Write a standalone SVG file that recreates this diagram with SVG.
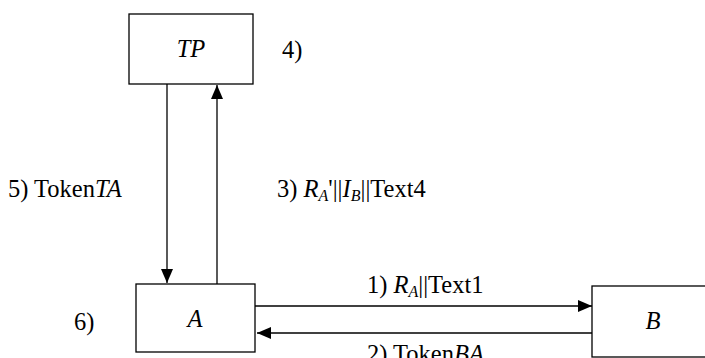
<svg xmlns="http://www.w3.org/2000/svg" width="705" height="358" viewBox="0 0 705 358">
  <style>
    .box { fill: #fff; stroke: #000; stroke-width: 1.3; }
    .edge { fill: none; stroke: #000; stroke-width: 1.3; }
    text { font-family: "Liberation Serif", "Times New Roman", serif; font-size: 24.5px; fill: #000; }
    .it { font-style: italic; }
    .sub { font-size: 16px; font-style: italic; }
  </style>
  <defs>
    <marker id="arrow" viewBox="0 0 14 12" refX="14" refY="6" markerWidth="14" markerHeight="12" markerUnits="userSpaceOnUse" orient="auto">
      <path d="M0,0 L14,6 L0,12 Z" fill="#000"/>
    </marker>
  </defs>

  <g id="connectors">
    <line class="edge" x1="167" y1="84" x2="167" y2="283" marker-end="url(#arrow)"/>
    <line class="edge" x1="217" y1="284" x2="217" y2="85" marker-end="url(#arrow)"/>
    <line class="edge" x1="255" y1="306" x2="592" y2="306" marker-end="url(#arrow)"/>
    <line class="edge" x1="592" y1="333" x2="257" y2="333" marker-end="url(#arrow)"/>
  </g>

  <g id="node-tp">
    <rect class="box" x="129" y="14" width="124" height="70"/>
    <text class="it" x="191" y="57" text-anchor="middle">TP</text>
  </g>
  <g id="node-a">
    <rect class="box" x="136" y="284" width="119" height="68"/>
    <text class="it" x="195" y="327" text-anchor="middle">A</text>
  </g>
  <g id="node-b">
    <rect class="box" x="592" y="286" width="130" height="71"/>
    <text class="it" x="653" y="329" text-anchor="middle">B</text>
  </g>

  <g id="labels">
    <text x="282" y="58">4)</text>
    <text x="8" y="197">5) Token<tspan class="it">TA</tspan></text>
    <text x="277" y="197">3) <tspan class="it">R</tspan><tspan class="sub" dy="4">A</tspan><tspan dy="-4">'||</tspan><tspan class="it">I</tspan><tspan class="sub" dy="4">B</tspan><tspan dy="-4">||Text4</tspan></text>
    <text x="367" y="293">1) <tspan class="it">R</tspan><tspan class="sub" dy="4">A</tspan><tspan dy="-4">||Text1</tspan></text>
    <text x="367" y="362">2) Token<tspan class="it">BA</tspan></text>
    <text x="74" y="330">6)</text>
  </g>
</svg>
